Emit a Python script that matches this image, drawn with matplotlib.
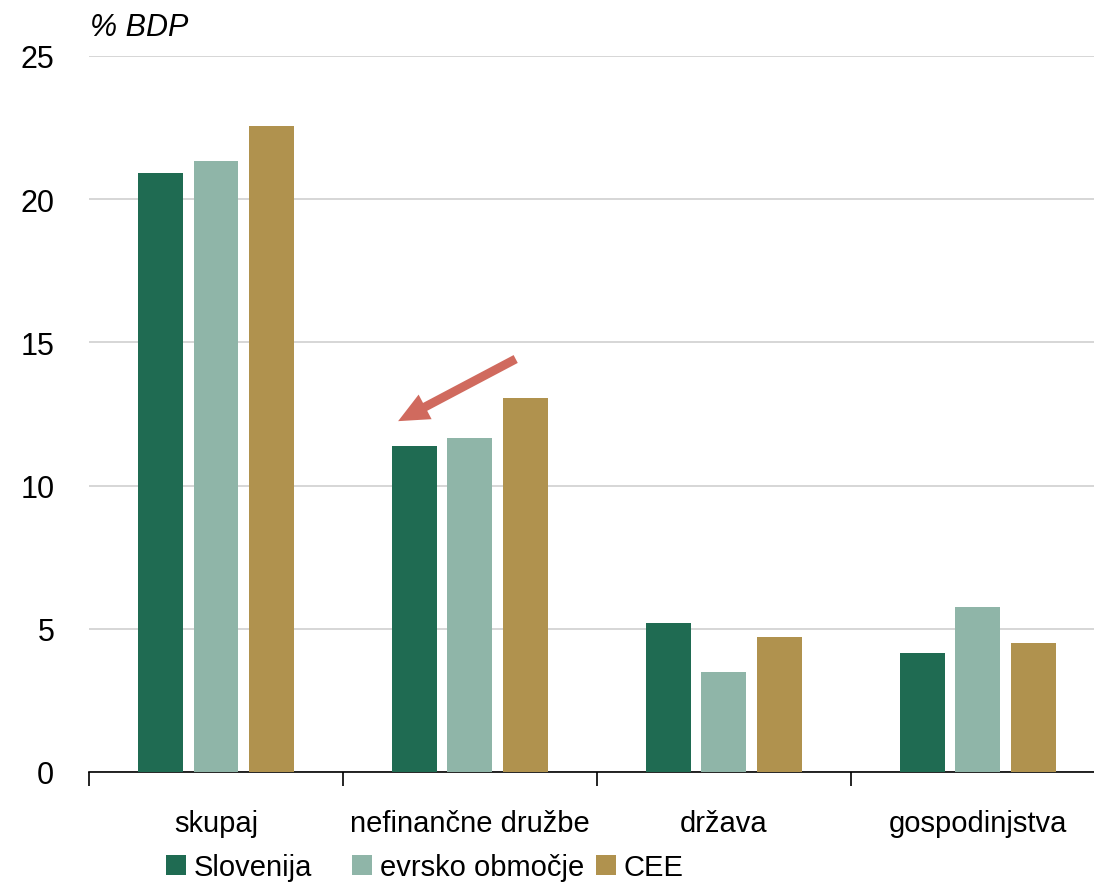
import matplotlib
matplotlib.use('Agg')
import matplotlib.pyplot as plt
import numpy as np
from matplotlib.patches import Patch

plt.rcParams['font.family'] = ['Liberation Sans', 'DejaVu Sans']

categories = ['skupaj', 'nefinančne družbe', 'država', 'gospodinjstva']
series = ['Slovenija', 'evrsko območje', 'CEE']
slovenija = [20.9, 11.4, 5.2, 4.15]
evro = [21.35, 11.65, 3.5, 5.75]
cee = [22.55, 13.05, 4.7, 4.5]
colors = ['#1f6b52', '#8fb5a8', '#b0924e']
yticks = [0, 5, 10, 15, 20, 25]

fig = plt.figure(figsize=(10.94, 8.87), dpi=100)
ax = fig.add_axes([89 / 1094, 1 - 773 / 887, 1 - 89 / 1094, (773 - 57) / 887])

x = np.arange(len(categories))
w = 0.177
off = 0.217
for i, (vals, c) in enumerate(zip([slovenija, evro, cee], colors)):
    ax.bar(x + (i - 1) * off, vals, width=w, color=c, zorder=3)

ax.set_yticks(yticks)
ax.yaxis.grid(True, color='#d0d0d0', linewidth=1.2, zorder=0)
ax.tick_params(axis='y', length=0, labelsize=22, pad=25)
for s in ['left', 'right', 'top']:
    ax.spines[s].set_visible(False)
ax.spines['bottom'].set_linewidth(1.2)

# group boundary ticks
ax.set_xticks([-0.5, 0.5, 1.5, 2.5, 3.5])
ax.set_xticklabels([])
ax.tick_params(axis='x', direction='out', length=10, width=1.2)
ax.set_xticks(x, minor=True)
ax.set_xticklabels(categories, minor=True, fontsize=21)
ax.tick_params(axis='x', which='minor', length=0, pad=27)
ax.set_ylim(0, 25)
ax.set_xlim(-0.5, 3.457)

ax.text(0.001, 1.041, '% BDP', transform=ax.transAxes, fontsize=22, style='italic',
        ha='left', va='center')

ax.annotate('', xy=(0.717, 12.25), xytext=(1.18, 14.42),
            arrowprops=dict(arrowstyle='simple,tail_width=0.32,head_width=1.0,head_length=1.1',
                            mutation_scale=20, color='#d06a5e', lw=0,
                            shrinkA=0, shrinkB=0), zorder=5)

# legend entries, one per series
leg_x = [166, 352, 596]
for c, s, lx in zip(colors, series, leg_x):
    leg = fig.legend(handles=[Patch(facecolor=c, label=s)], loc='center left',
                     bbox_to_anchor=(lx / 1094, 1 - 868 / 887), frameon=False,
                     fontsize=21, handlelength=0.7, handleheight=0.7,
                     handletextpad=0.25, borderpad=0, borderaxespad=0)

fig.savefig('out.png', dpi=100)
